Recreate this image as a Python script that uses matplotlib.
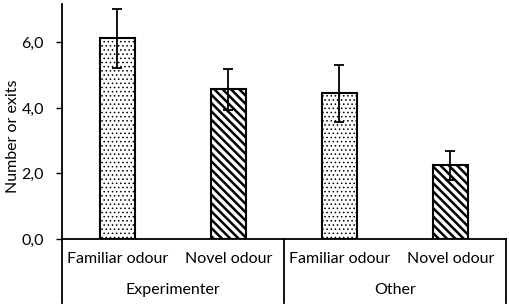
import numpy as np
import matplotlib as mpl
import matplotlib.pyplot as plt
import matplotlib.transforms as mtransforms

plt.rcParams['font.family'] = ['Lato', 'DejaVu Sans']

# data
groups = ['Experimenter', 'Other']
conditions = ['Familiar odour', 'Novel odour']
means = [6.13, 4.57, 4.44, 2.25]
errors = [0.90, 0.62, 0.88, 0.45]
hatches = ['....', '\\\\\\\\', '....', '\\\\\\\\']
hatch_lw = [0.6, 1.8, 0.6, 1.8]
yticks = [0.0, 2.0, 4.0, 6.0]

fs = 11.5
fig = plt.figure(figsize=(5.1, 3.07), dpi=100)
ax = fig.add_axes([62 / 510, 68 / 307, 444 / 510, 235 / 307])

x = np.arange(len(means))
for xi, m, h, hl in zip(x, means, hatches, hatch_lw):
    with mpl.rc_context({'hatch.linewidth': hl}):
        b = ax.bar(xi, m, width=0.315, color='white', edgecolor='black',
                   linewidth=1.5, hatch=h, zorder=2)[0]
    if hasattr(b, 'set_hatch_linewidth'):
        b.set_hatch_linewidth(hl)
ax.errorbar(x, means, yerr=errors, fmt='none', ecolor='black',
            elinewidth=1.3, capsize=3.5, capthick=1.3, zorder=3)

ax.set_xlim(-0.5, 3.5)
ax.set_ylim(0, 7.17)
ax.set_yticks(yticks)
ax.set_yticklabels([f'{v:.1f}'.replace('.', ',') for v in yticks], fontsize=fs)
ax.tick_params(axis='y', direction='out', length=4, width=1, pad=9)
ax.set_xticks([])
fig.text(13 / 510, 1 - 136 / 307, 'Number or exits', rotation=90,
         ha='center', va='center', fontsize=fs)

for s in ['top', 'right']:
    ax.spines[s].set_visible(False)
ax.spines['left'].set_linewidth(1.3)
ax.spines['bottom'].set_linewidth(1.3)

# category table below the axis
trans = mtransforms.blended_transform_factory(ax.transData, ax.transAxes)
bottom = -64 / 235
for xv in [-0.5, 1.5, 3.5]:
    ax.plot([xv, xv], [0, bottom], color='black', lw=1.3, transform=trans,
            clip_on=False)
for i, xi in enumerate(x):
    ax.text(xi, -20 / 235, conditions[i % 2], transform=trans, ha='center',
            va='center', fontsize=fs)
for g, name in enumerate(groups):
    ax.text(0.5 + 2 * g, -51 / 235, name, transform=trans, ha='center',
            va='center', fontsize=fs)

fig.savefig('out.png', dpi=100)
